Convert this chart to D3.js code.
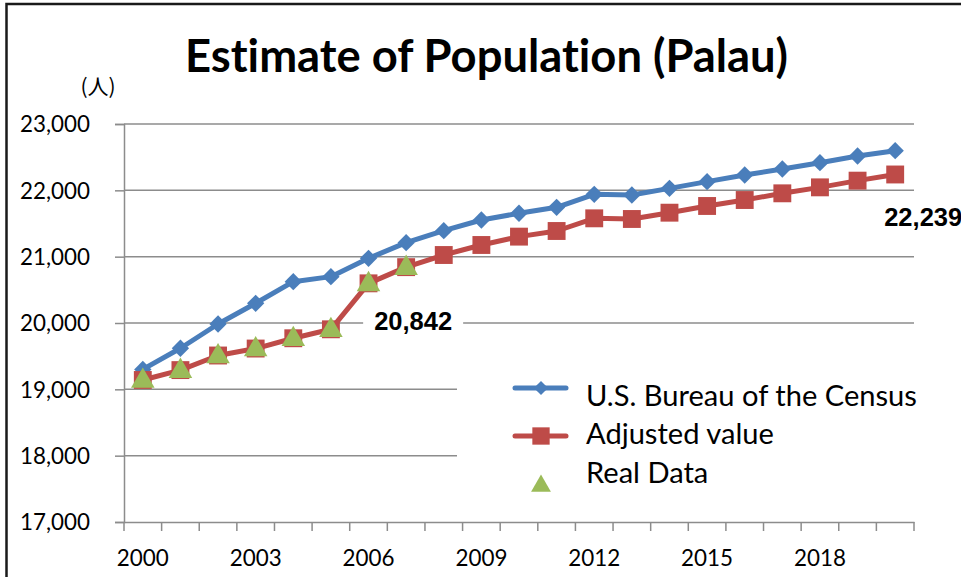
<!DOCTYPE html>
<html>
<head>
<meta charset="utf-8">
<script src="https://cdn.jsdelivr.net/npm/d3@7/dist/d3.min.js"></script>
<style>
  html, body { margin: 0; padding: 0; background: #fff; }
  svg { display: block; }
  text { font-variant-ligatures: none; font-feature-settings: "liga" 0, "clig" 0; }
</style>
</head>
<body>
<svg id="chart" width="961" height="577"></svg>
<script>
// ---- data ----
const years = ["2000","2001","2002","2003","2004","2005","2006","2007","2008","2009","2010",
               "2011","2012","2013","2014","2015","2016","2017","2018","2019","2020"];
const censusValues = [19300, 19619, 19985, 20297, 20623, 20699, 20975, 21211, 21392, 21553, 21654,
                      21744, 21940, 21930, 22030, 22131, 22231, 22322, 22417, 22518, 22598];
const adjustedValues = [19141, 19290, 19510, 19615, 19770, 19905, 20598, 20842, 21025, 21176, 21302,
                        21387, 21578, 21568, 21663, 21764, 21854, 21955, 22045, 22146, 22239];
const realYears = ["2000","2001","2002","2003","2004","2005","2006","2007"];
const realValues = [19141, 19290, 19510, 19615, 19770, 19905, 20598, 20842];
const yTicks = [17000, 18000, 19000, 20000, 21000, 22000, 23000];
const xTickLabels = ["2000","2003","2006","2009","2012","2015","2018"];
const seriesNames = ["U.S. Bureau of the Census", "Adjusted value", "Real Data"];
const title = "Estimate of Population (Palau)";
const unitLabel = "(人)";
const labelled = [{year: "2007", value: 20842}, {year: "2020", value: 22239}];

// ---- drawing ----
const svg = d3.select("#chart");
const W = 961, H = 577;
const plot = {left: 124, right: 914, top: 124, bottom: 522};
const BLUE = "#4A7EBB", RED = "#BE4B48", GREEN = "#9BBB59", GRID = "#8c8c8c";
const CAL = "Lato, 'Open Sans', sans-serif";

const x = d3.scaleBand().domain(years).range([plot.left, plot.right]).padding(0);
const cx = d => x(d) + x.bandwidth() / 2;
const y = d3.scaleLinear().domain([17000, 23000]).range([plot.bottom, plot.top]);

function fit(sel, w) {
  const n = sel.node();
  const cur = parseFloat(sel.attr("font-size"));
  const m = n.getComputedTextLength();
  const s = cur * w / m;
  sel.attr("font-size", s);
  return s;
}

// outer border
svg.append("rect").attr("x", 6.5).attr("y", 4).attr("width", W + 20).attr("height", H + 20)
  .attr("fill", "#fff").attr("stroke", "#1a1a1a").attr("stroke-width", 2.5);

// title
const t = svg.append("text").attr("x", 486.5).attr("y", 72).attr("text-anchor", "middle")
  .attr("font-family", CAL).attr("font-weight", 700).attr("font-size", 44).attr("fill", "#000")
  .text(title);
fit(t, 603);

// unit label
svg.append("text").attr("x", 98).attr("y", 94).attr("text-anchor", "middle")
  .attr("font-family", "'Noto Sans CJK JP', " + CAL).attr("font-size", 21).attr("fill", "#000")
  .text(unitLabel);

// y gridlines & axis
const yAxis = d3.axisLeft(y).tickValues(yTicks).tickSize(9).tickPadding(0).tickFormat(d3.format(","));
const gy = svg.append("g").attr("transform", `translate(${plot.left},0)`).call(yAxis);
gy.select(".domain").attr("stroke", GRID).attr("stroke-width", 1.5);
gy.selectAll(".tick line").attr("stroke", GRID).attr("stroke-width", 1.5);
gy.selectAll(".tick text").attr("x", -34).attr("dy", "0.35em").attr("font-family", CAL)
  .attr("font-size", 22.5).attr("fill", "#000");
{
  const node = gy.select(".tick:last-of-type text");
  const s = fit(node, 70);
  gy.selectAll(".tick text").attr("font-size", s);
}
const grid = svg.append("g");
grid.selectAll("line").data(yTicks.filter(v => v > 17000)).join("line")
  .attr("x1", plot.left).attr("x2", plot.right)
  .attr("y1", d => y(d)).attr("y2", d => y(d))
  .attr("stroke", GRID).attr("stroke-width", 1.5);

// x axis
const xAxis = d3.axisBottom(x).tickSize(0).tickFormat(d => xTickLabels.includes(d) ? d : "");
const gx = svg.append("g").attr("transform", `translate(0,${plot.bottom})`).call(xAxis);
gx.select(".domain").attr("stroke", GRID).attr("stroke-width", 1.5);
gx.selectAll(".tick text").attr("y", 0).attr("dy", 0).attr("transform", "translate(0,44)")
  .attr("font-family", CAL).attr("font-size", 22.5).attr("fill", "#000");
{
  const node = gx.selectAll(".tick text").filter(d => d === "2000");
  const s = fit(node, 52);
  gx.selectAll(".tick text").attr("font-size", s);
}
const bounds = years.map(d => x(d)).concat([plot.right]);
gx.selectAll("line.bound").data(bounds).join("line").attr("class", "bound")
  .attr("x1", d => d).attr("x2", d => d).attr("y1", 0).attr("y2", 9)
  .attr("stroke", GRID).attr("stroke-width", 1.5);

// legend background (covers gridlines)
const legX = 457;
svg.append("rect").attr("x", legX).attr("y", 345).attr("width", plot.right - legX + 2).attr("height", 170)
  .attr("fill", "#fff");

// series
const line = d3.line().x((d, i) => cx(years[i])).y(d => y(d));
const diamondPath = s => d3.symbol().type(d3.symbolSquare).size(s)();
const squarePath = s => d3.symbol().type(d3.symbolSquare).size(s)();
const trianglePath = s => d3.symbol().type(d3.symbolTriangle).size(s)();

svg.append("path").datum(censusValues).attr("d", line).attr("fill", "none")
  .attr("stroke", BLUE).attr("stroke-width", 5).attr("stroke-linejoin", "round");
svg.append("g").selectAll("path").data(censusValues).join("path")
  .attr("d", diamondPath(150))
  .attr("transform", (d, i) => `translate(${cx(years[i])},${y(d)}) rotate(45)`)
  .attr("fill", BLUE);

svg.append("path").datum(adjustedValues).attr("d", line).attr("fill", "none")
  .attr("stroke", RED).attr("stroke-width", 5).attr("stroke-linejoin", "round");
svg.append("g").selectAll("path").data(adjustedValues).join("path")
  .attr("d", squarePath(320))
  .attr("transform", (d, i) => `translate(${cx(years[i])},${y(d)})`)
  .attr("fill", RED);

svg.append("g").selectAll("path").data(realValues).join("path")
  .attr("d", trianglePath(240))
  .attr("transform", (d, i) => `translate(${cx(realYears[i])},${y(d) + 1})`)
  .attr("fill", GREEN);

// data labels
const lab1 = labelled[0];
const l1x = cx(lab1.year) + 7, l1y = y(lab1.value) + 63;
svg.append("rect").attr("x", l1x - 50).attr("y", l1y - 22).attr("width", 100).attr("height", 28).attr("fill", "#fff");
const dl1 = svg.append("text").attr("x", l1x).attr("y", l1y).attr("text-anchor", "middle")
  .attr("font-family", "'Liberation Sans', Arial, sans-serif").attr("font-weight", 700)
  .attr("font-size", 25).attr("fill", "#000").text(d3.format(",")(lab1.value));
fit(dl1, 78);
const lab2 = labelled[1];
svg.append("text").attr("x", cx(lab2.year) - 11).attr("y", y(lab2.value) + 52)
  .attr("font-family", "'Liberation Sans', Arial, sans-serif").attr("font-weight", 700)
  .attr("font-size", dl1.attr("font-size")).attr("fill", "#000").text(d3.format(",")(lab2.value));

// legend
const legRows = [
  {name: seriesNames[0], color: BLUE, sym: diamondPath(100), rot: 45, lineY: 388, textY: 405.5, line: true},
  {name: seriesNames[1], color: RED, sym: squarePath(300), rot: 0, lineY: 436, textY: 444, line: true},
  {name: seriesNames[2], color: GREEN, sym: trianglePath(170), rot: 0, lineY: 486, textY: 482.5, line: false}
];
const lg = svg.append("g");
const rows = lg.selectAll("g").data(legRows).join("g");
rows.filter(d => d.line).append("line")
  .attr("x1", 515).attr("x2", 566).attr("y1", d => d.lineY).attr("y2", d => d.lineY)
  .attr("stroke", d => d.color).attr("stroke-width", 5).attr("stroke-linecap", "round");
rows.append("path").attr("d", d => d.sym)
  .attr("transform", d => `translate(541,${d.lineY}) rotate(${d.rot})`).attr("fill", d => d.color);
const lt = rows.append("text").attr("x", 586).attr("y", d => d.textY)
  .attr("font-family", CAL).attr("font-size", 27).attr("fill", "#000").text(d => d.name);
{
  const first = lt.filter((d, i) => i === 0);
  const s = fit(first, 331);
  lt.attr("font-size", s);
}
</script>
</body>
</html>
